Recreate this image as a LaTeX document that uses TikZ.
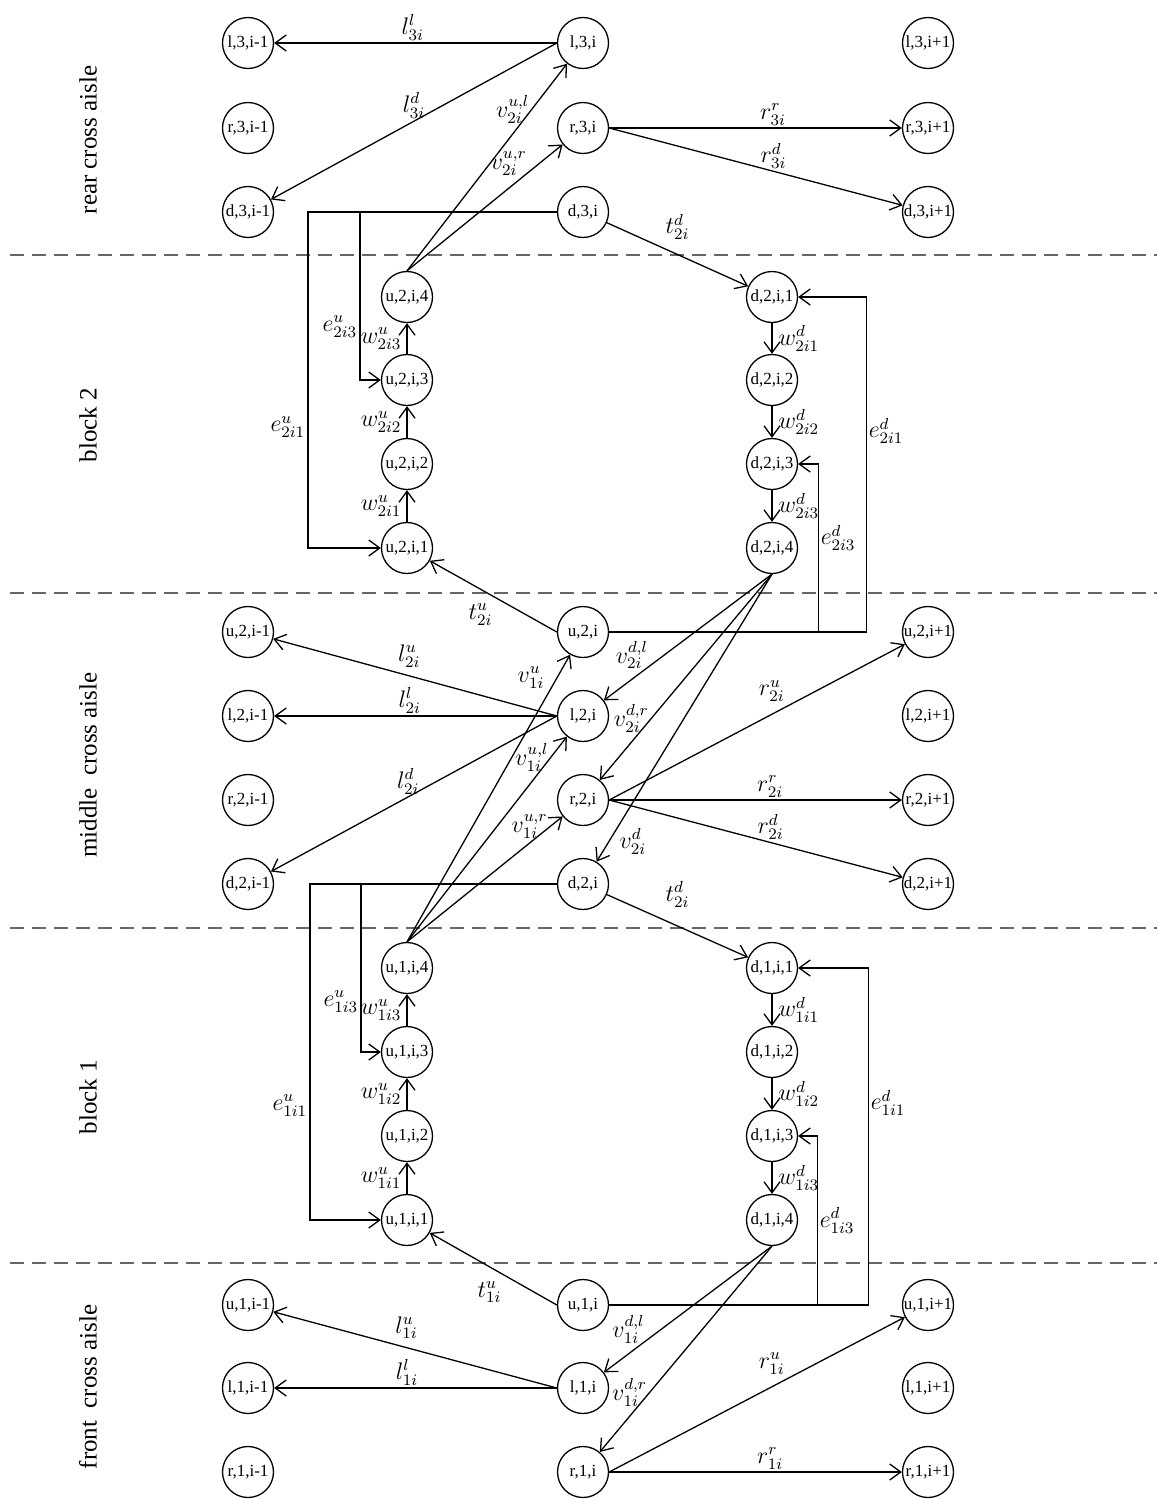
\documentclass[tikz,border=0pt]{standalone}
\usepackage{fontspec}
\setmainfont{Liberation Serif}
\usetikzlibrary{arrows.meta}

\begin{document}
\begin{tikzpicture}[x=0.5pt, y=-0.5pt,
	state/.style={circle, draw, line width=0.65pt, minimum size=25.5pt, inner sep=0pt, font=\fontsize{8.5}{9}\selectfont},
	arc/.style={line width=0.65pt, -{Straight Barb[length=5.5pt,width=8pt]}},
	lab/.style={inner sep=1pt, font=\fontsize{12}{14}\selectfont},
	aisle/.style={draw=black!60, line width=1pt, dash pattern=on 7pt off 4pt},
	zone/.style={rotate=90, font=\fontsize{12.5}{14}\selectfont}]
	
	\useasboundingbox (0,0) rectangle (1157,1499);
	
	\node[zone] (rear) at (88,140) {rear cross aisle};
	\node[zone] (blk2) at (88,425) {block 2};
	\node[zone] (mid) at (88,765) {middle~ cross aisle};
	\node[zone] (blk1) at (88,1097) {block 1};
	\node[zone] (front) at (88,1387) {front~ cross aisle};
	
	\draw[aisle] (10,255) -- (1157,255);
	\draw[aisle] (10,593) -- (1157,593);
	\draw[aisle] (10,928) -- (1157,928);
	\draw[aisle] (10,1263) -- (1157,1263);
	
	\node[state] (l3im) at (248,43) {l,3,i-1};
	\node[state] (r3im) at (248,128) {r,3,i-1};
	\node[state] (d3im) at (248,212) {d,3,i-1};
	\node[state] (l3i) at (583,43) {l,3,i};
	\node[state] (r3i) at (583,128) {r,3,i};
	\node[state] (d3i) at (583,212) {d,3,i};
	\node[state] (l3ip) at (928,43) {l,3,i+1};
	\node[state] (r3ip) at (928,128) {r,3,i+1};
	\node[state] (d3ip) at (928,212) {d,3,i+1};
	
	\node[state] (u2i4) at (407,297) {u,2,i,4};
	\node[state] (u2i3) at (407,380) {u,2,i,3};
	\node[state] (u2i2) at (407,464) {u,2,i,2};
	\node[state] (u2i1) at (407,548) {u,2,i,1};
	\node[state] (d2i1) at (772,297) {d,2,i,1};
	\node[state] (d2i2) at (772,380) {d,2,i,2};
	\node[state] (d2i3) at (772,464) {d,2,i,3};
	\node[state] (d2i4) at (772,548) {d,2,i,4};
	
	\node[state] (u2im) at (248,632) {u,2,i-1};
	\node[state] (l2im) at (248,716) {l,2,i-1};
	\node[state] (r2im) at (248,800) {r,2,i-1};
	\node[state] (d2im) at (248,884) {d,2,i-1};
	\node[state] (u2i) at (583,632) {u,2,i};
	\node[state] (l2i) at (583,716) {l,2,i};
	\node[state] (r2i) at (583,800) {r,2,i};
	\node[state] (d2i) at (583,884) {d,2,i};
	\node[state] (u2ip) at (928,632) {u,2,i+1};
	\node[state] (l2ip) at (928,716) {l,2,i+1};
	\node[state] (r2ip) at (928,800) {r,2,i+1};
	\node[state] (d2ip) at (928,884) {d,2,i+1};
	
	\node[state] (u1i4) at (407,968) {u,1,i,4};
	\node[state] (u1i3) at (407,1052) {u,1,i,3};
	\node[state] (u1i2) at (407,1136) {u,1,i,2};
	\node[state] (u1i1) at (407,1220) {u,1,i,1};
	\node[state] (d1i1) at (772,968) {d,1,i,1};
	\node[state] (d1i2) at (772,1052) {d,1,i,2};
	\node[state] (d1i3) at (772,1136) {d,1,i,3};
	\node[state] (d1i4) at (772,1220) {d,1,i,4};
	
	\node[state] (u1im) at (248,1305) {u,1,i-1};
	\node[state] (l1im) at (248,1388) {l,1,i-1};
	\node[state] (r1im) at (248,1472) {r,1,i-1};
	\node[state] (u1i) at (583,1305) {u,1,i};
	\node[state] (l1i) at (583,1388) {l,1,i};
	\node[state] (r1i) at (583,1472) {r,1,i};
	\node[state] (u1ip) at (928,1305) {u,1,i+1};
	\node[state] (l1ip) at (928,1388) {l,1,i+1};
	\node[state] (r1ip) at (928,1472) {r,1,i+1};
	
	\draw[arc] (l3i) -- node[lab,above,pos=0.51] {$l^{l}_{3i}$} (l3im);
	\draw[arc] (l3i.west) -- node[lab,above] {$l^{d}_{3i}$} (d3im);
	\draw[arc] (u2i4.north) -- node[lab,left,pos=0.78] {$v^{u,l}_{2i}$} (l3i);
	\draw[arc] (u2i4.north) -- node[lab,left=5pt,pos=0.85] {$v^{u,r}_{2i}$} (r3i);
	\draw[arc] (r3i.east) -- node[lab,above,pos=0.56] {$r^{r}_{3i}$} (r3ip);
	\draw[arc] (r3i.east) -- node[lab,above,pos=0.56] {$r^{d}_{3i}$} (d3ip);
	\draw[arc] (d3i) -- node[lab,above=6pt] {$t^{d}_{2i}$} (d2i1);
	\draw[arc] (d3i.west) -- ++(-249,0) |- node[lab,left,pos=0.32] {$e^{u}_{2i1}$} (u2i1.west);
	\draw[arc] (d3i.west) ++(-197,0) |- node[lab,left,pos=0.34] {$e^{u}_{2i3}$} (u2i3.west);
	
	\draw[arc] (u2i1) -- node[lab,left=1.5pt] {$w^{u}_{2i1}$} (u2i2);
	\draw[arc] (u2i2) -- node[lab,left=1.5pt] {$w^{u}_{2i2}$} (u2i3);
	\draw[arc] (u2i3) -- node[lab,left=1.5pt] {$w^{u}_{2i3}$} (u2i4);
	\draw[arc] (d2i1) -- node[lab,right=2pt] {$w^{d}_{2i1}$} (d2i2);
	\draw[arc] (d2i2) -- node[lab,right=2pt] {$w^{d}_{2i2}$} (d2i3);
	\draw[arc] (d2i3) -- node[lab,right=2pt] {$w^{d}_{2i3}$} (d2i4);
	\draw[arc] (u2i.east) -- ++(257,0) |- node[lab,right,pos=0.3] {$e^{d}_{2i1}$} (d2i1.east);
	\draw[arc] (u2i.east) ++(209,0) |- node[lab,right,pos=0.28] {$e^{d}_{2i3}$} (d2i3.east);
	\draw[arc] (u2i.west) -- node[lab,below=6pt,pos=0.6] {$t^{u}_{2i}$} (u2i1);
	
	\draw[arc] (d2i4.south) -- node[lab,left=7pt,pos=0.64] {$v^{d,l}_{2i}$} (l2i);
	\draw[arc] (d2i4.south) -- node[lab,left,pos=0.7] {$v^{d,r}_{2i}$} (r2i);
	\draw[arc] (d2i4.south) -- node[lab,right=4pt,pos=0.93] {$v^{d}_{2i}$} (d2i);
	\draw[arc] (l2i.west) -- node[lab,above=3pt,pos=0.52] {$l^{u}_{2i}$} (u2im);
	\draw[arc] (l2i.west) -- node[lab,above,pos=0.52] {$l^{l}_{2i}$} (l2im);
	\draw[arc] (l2i.west) -- node[lab,above,pos=0.52] {$l^{d}_{2i}$} (d2im);
	\draw[arc] (u1i4.north) -- node[lab,left=5pt,pos=0.92] {$v^{u}_{1i}$} (u2i);
	\draw[arc] (u1i4.north) -- node[lab,left,pos=0.9] {$v^{u,l}_{1i}$} (l2i);
	\draw[arc] (u1i4.north) -- node[lab,left,pos=0.92] {$v^{u,r}_{1i}$} (r2i);
	\draw[arc] (r2i.east) -- node[lab,above=5pt,pos=0.55] {$r^{u}_{2i}$} (u2ip);
	\draw[arc] (r2i.east) -- node[lab,above,pos=0.55] {$r^{r}_{2i}$} (r2ip);
	\draw[arc] (r2i.east) -- node[lab,above,pos=0.55] {$r^{d}_{2i}$} (d2ip);
	\draw[arc] (d2i) -- node[lab,above=8pt] {$t^{d}_{2i}$} (d1i1);
	\draw[arc] (d2i.west) -- ++(-247,0) |- node[lab,left,pos=0.33] {$e^{u}_{1i1}$} (u1i1.west);
	\draw[arc] (d2i.west) ++(-196,0) |- node[lab,left,pos=0.35] {$e^{u}_{1i3}$} (u1i3.west);
	
	\draw[arc] (u1i1) -- node[lab,left=1.5pt] {$w^{u}_{1i1}$} (u1i2);
	\draw[arc] (u1i2) -- node[lab,left=1.5pt] {$w^{u}_{1i2}$} (u1i3);
	\draw[arc] (u1i3) -- node[lab,left=1.5pt] {$w^{u}_{1i3}$} (u1i4);
	\draw[arc] (d1i1) -- node[lab,right=2pt] {$w^{d}_{1i1}$} (d1i2);
	\draw[arc] (d1i2) -- node[lab,right=2pt] {$w^{d}_{1i2}$} (d1i3);
	\draw[arc] (d1i3) -- node[lab,right=2pt] {$w^{d}_{1i3}$} (d1i4);
	\draw[arc] (u1i.east) -- ++(259,0) |- node[lab,right,pos=0.3] {$e^{d}_{1i1}$} (d1i1.east);
	\draw[arc] (u1i.east) ++(208,0) |- node[lab,right,pos=0.25] {$e^{d}_{1i3}$} (d1i3.east);
	\draw[arc] (u1i.west) -- node[lab,below=6pt,pos=0.53] {$t^{u}_{1i}$} (u1i1);
	
	\draw[arc] (d1i4.south) -- node[lab,left=7pt,pos=0.66] {$v^{d,l}_{1i}$} (l1i);
	\draw[arc] (d1i4.south) -- node[lab,left,pos=0.71] {$v^{d,r}_{1i}$} (r1i);
	\draw[arc] (l1i.west) -- node[lab,above=3pt,pos=0.53] {$l^{u}_{1i}$} (u1im);
	\draw[arc] (l1i.west) -- node[lab,above,pos=0.53] {$l^{l}_{1i}$} (l1im);
	\draw[arc] (r1i.east) -- node[lab,above=5pt,pos=0.55] {$r^{u}_{1i}$} (u1ip);
	\draw[arc] (r1i.east) -- node[lab,above,pos=0.55] {$r^{r}_{1i}$} (r1ip);
\end{tikzpicture}
\end{document}
